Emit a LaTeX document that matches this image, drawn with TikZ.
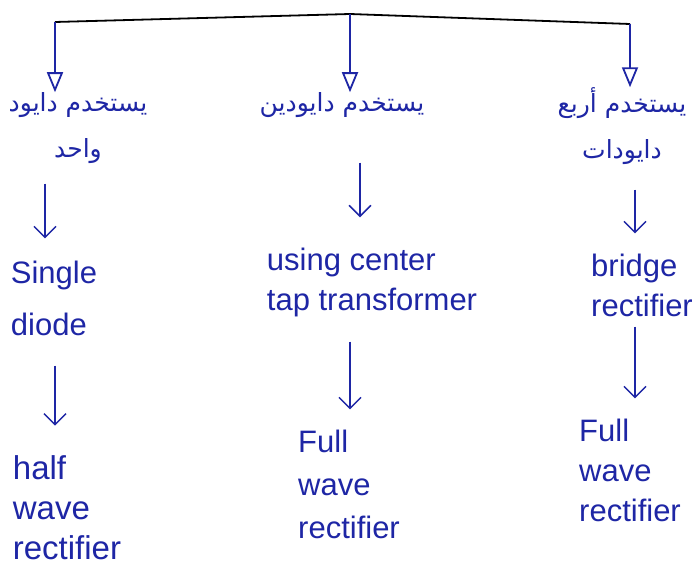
\documentclass[tikz,border=0pt]{standalone}
\usepackage{fontspec}
\setmainfont{Liberation Sans}
\newfontfamily\arabicfont[Script=Arabic]{DejaVu Sans}
\TeXXeTstate=1
\usetikzlibrary{arrows.meta,positioning}
\definecolor{ink}{RGB}{30,38,165}

\tikzstyle{arab} = [text=ink,font=\arabicfont\fontsize{25}{46}\selectfont,align=center,inner sep=0pt]
\tikzstyle{word} = [text=ink,font=\fontsize{31}{40}\selectfont,align=left,inner sep=0pt]
\tikzstyle{bar} = [draw,line width=1.8pt,line join=round]
\tikzstyle{drop} = [draw=ink,line width=1.8pt,-{Triangle[open,length=20pt,width=16pt,line width=1.8pt]}]
\tikzstyle{edge} = [draw=ink,line width=1.5pt,-{Straight Barb[length=11pt,width=22pt]}]

\begin{document}
\begin{tikzpicture}[x=1pt,y=-1pt]
\useasboundingbox (0,0) rectangle (692,572);

% three ways of rectifying
\node[arab] (a1) at (78,128) {\beginR يستخدم دايود\endR\\\beginR واحد\endR};
\node[arab] (a2) at (342,105) {\beginR يستخدم دايودين\endR};
\node[arab] (a3) at (622,126) {\beginR يستخدم أربع\endR\\\beginR دايودات\endR};

\node[word,font=\fontsize{31}{52}\selectfont] (e1) at (54,298) {Single\\diode};
\node[word] (e2) at (372,282) {using center\\tap transformer};
\node[word] (e3) at (642,285) {bridge\\rectifier};

\node[word,font=\fontsize{33}{40}\selectfont] (r1) at (67,508) {half\\wave\\rectifier};
\node[word,font=\fontsize{31}{43}\selectfont] (r2) at (349,484) {Full\\wave\\rectifier};
\node[word] (r3) at (630,470) {Full\\wave\\rectifier};

% top bracket
\coordinate (hub) at (350,14);
\coordinate (t1) at (55,22);
\coordinate (t3) at (630,24);
\path[bar] (t1) -- (hub) -- (t3);
\path[drop] (t1) -- (t1 |- a1.north);
\path[drop] (hub) -- (hub |- a2.north);
\path[drop] (t3) -- (t3 |- a3.north);

% down the columns
\path[edge,shorten <=20pt,shorten >=22pt] ([xshift=-33pt]a1.south) -- ([xshift=-9pt]e1.north);
\path[edge,shorten <=30pt,shorten >=30pt] ([xshift=1pt]e1.south) -- ([xshift=-12pt]r1.north);
\path[edge,shorten <=45pt,shorten >=30pt] ([xshift=18pt]a2.south) -- ([xshift=-12pt]e2.north);
\path[edge,shorten <=25pt,shorten >=20pt] ([xshift=-22pt]e2.south) -- ([xshift=1pt]r2.north);
\path[edge,shorten <=25pt,shorten >=20pt] ([xshift=13pt]a3.south) -- ([xshift=-7pt]e3.north);
\path[edge,shorten <=10pt,shorten >=20pt] ([xshift=-7pt]e3.south) -- ([xshift=5pt]r3.north);
\end{tikzpicture}
\end{document}
